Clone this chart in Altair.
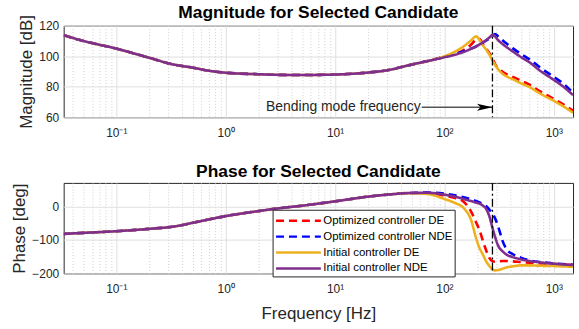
import altair as alt
import pandas as pd

# ---------------- data ----------------
freq = [0.033, 0.05, 0.1, 0.2, 0.337, 0.5, 0.7, 1, 2, 3, 5, 10, 20, 30, 50, 70,
        100, 125, 150, 175, 195, 210, 225, 240, 258, 276,
        290, 310, 340, 370, 420, 500, 600, 750, 1000, 1200, 1500]

series_names = ["Optimized controller DE", "Optimized controller NDE",
                "Initial controller DE", "Initial controller NDE"]
series_colors = ["#FF0000", "#0000FF", "#EDB120", "#7E2F8E"]
series_dashes = [[8, 5], [8, 5], [1, 0], [1, 0]]

mag_opt_de = [113.8, 110, 105, 99, 94.5, 92.5, 90.5, 89.2, 88.2, 87.8, 87.7, 88, 89.3, 90.8, 94.5, 96.8,
              99.6, 101.5, 104, 107.5, 110.8, 111.2, 108, 105, 102, 98.5,
              95, 92, 89.8, 88.3, 86.5, 84, 81.3, 77, 72, 68.7, 64.3]
mag_opt_nde = [113.8, 110, 105, 99, 94.5, 92.5, 90.5, 89.2, 88.2, 87.8, 87.7, 88, 89.3, 90.8, 94.5, 96.8,
               99.6, 101.5, 103.2, 105, 106.5, 107.8, 109, 110.2, 111.7, 113.3,
               114.6, 113, 110.5, 108.3, 105.3, 101.5, 98, 92.6, 86.5, 82.5, 76]
mag_init_de = [113.8, 110, 105, 99, 94.5, 92.5, 90.5, 89.2, 88.2, 87.8, 87.7, 88, 89.3, 90.8, 94.5, 96.8,
               100, 103, 106.5, 110.3, 113, 110.5, 107, 104.5, 101, 97,
               94.5, 91.5, 88.5, 86.8, 85, 82.3, 79.8, 75.5, 70.8, 67.5, 63]
mag_init_nde = [113.8, 110, 105, 99, 94.5, 92.5, 90.5, 89.2, 88.2, 87.8, 87.7, 88, 89.3, 90.8, 94.5, 96.8,
                99.3, 101, 102.8, 104.8, 106.3, 107.8, 109, 110.5, 112.3, 114,
                113, 110.5, 108, 106, 103.2, 99.5, 96, 90.5, 84.5, 80.5, 74.5]

ph_opt_de = [-82, -79, -74, -67, -60, -49, -39, -29, -14, -6, 2, 15, 29, 35, 40, 40,
             32, 25, 14, -15, -48, -72, -103, -130, -154, -164,
             -165, -164, -163, -163, -164, -166, -168, -170, -172, -173, -175]
ph_opt_nde = [-82, -79, -74, -67, -60, -49, -39, -29, -14, -6, 2, 15, 29, 35, 40, 41,
              38, 33, 27, 21, 16, 12, 7, 1, -10, -22,
              -35, -60, -103, -128, -142, -153, -161, -166, -170, -172, -174]
ph_init_de = [-82, -79, -74, -67, -60, -49, -39, -29, -14, -6, 2, 15, 29, 35, 39, 37,
              22, 10, -5, -40, -95, -125, -144, -163, -178, -188,
              -191, -190, -186, -182, -179, -176, -176, -177, -178, -179, -180]
ph_init_nde = [-82, -79, -74, -67, -60, -49, -39, -29, -14, -6, 2, 15, 29, 35, 40, 40.5,
               35, 29, 22, 16, 11, 8, 2, -7, -30, -66,
               -90, -117, -134, -144, -151, -158, -163, -167, -171, -173, -175]

bend_freq = [275]
ann_text = ["Bending mode frequency"]
ann_text_end_freq = [62]
ann_mag = [66.6]

x_domain = [0.033, 1500]
x_major = [0.1, 1, 10, 100, 1000]
x_major_labels = ["10⁻¹", "10⁰", "10¹", "10²", "10³"]
x_minor = [m * 10.0 ** e for e in range(-2, 3) for m in range(2, 10)
           if x_domain[0] <= m * 10.0 ** e <= x_domain[1]]
mag_ticks = [60, 80, 100, 120]
ph_ticks = [-200, -100, 0]

# ---------------- tables ----------------
mag_series = [mag_opt_de, mag_opt_nde, mag_init_de, mag_init_nde]
ph_series = [ph_opt_de, ph_opt_nde, ph_init_de, ph_init_nde]
rows = []
for name, m, p in zip(series_names, mag_series, ph_series):
    for f, mv, pv in zip(freq, m, p):
        rows.append({"freq": f, "mag": mv, "phase": pv, "series": name})
df = pd.DataFrame(rows)
df_bend = pd.DataFrame({"freq": bend_freq})
df_ann = pd.DataFrame({"x": ann_text_end_freq, "x2": bend_freq, "y": ann_mag, "text": ann_text})

FONT = "Liberation Sans"
TXT = "#262626"
GRID = "#dfdfdf"

label_expr = " : ".join(
    [f"datum.value == {v} ? '{l}'" for v, l in zip(x_major, x_major_labels)]) + " : ''"
minor_test = "indexof(" + str(x_major) + ", datum.value) < 0"

x_scale = alt.Scale(type="log", domain=x_domain, nice=False)
mag_scale = alt.Scale(domain=[60, 120], nice=False)
ph_scale = alt.Scale(domain=[-200, 70], nice=False)


def make_x_axis(title=None):
    kw = dict(
        values=sorted(x_major + x_minor), labelExpr=label_expr, labelOverlap=False,
        labelFlush=False, grid=True,
        gridColor={"condition": {"test": minor_test, "value": "#cfcfcf"}, "value": GRID},
        gridDash={"condition": {"test": minor_test, "value": [1, 2]}, "value": []},
        ticks=False, domain=False, labelFontSize=12, labelFont=FONT, labelColor=TXT,
        labelPadding=10,
    )
    if title:
        kw.update(title=title, titleFontSize=17, titleFont=FONT, titleFontWeight="normal",
                  titleColor=TXT, titlePadding=11)
    else:
        kw.update(title=None)
    return alt.Axis(**kw)


def make_y_axis(title, vals):
    return alt.Axis(values=vals, grid=True, gridColor=GRID, ticks=False, domain=False,
                    labelFontSize=12, labelFont=FONT, labelColor=TXT, labelPadding=5,
                    title=title, titleFontSize=17, titleFont=FONT, titleFontWeight="normal",
                    titleColor=TXT, titlePadding=3)


def panel_layers(yfield, yscale, xax, yax, legend):
    X = alt.X("freq:Q", scale=x_scale, axis=xax)
    layers = []
    for name in series_names:
        layers.append(
            alt.Chart(df).transform_filter(alt.datum.series == name)
            .mark_line(strokeWidth=2.6, interpolate="monotone", clip=True)
            .encode(
                x=X,
                y=alt.Y(f"{yfield}:Q", scale=yscale, axis=yax),
                color=alt.Color("series:N", scale=alt.Scale(domain=series_names, range=series_colors),
                                legend=legend),
                strokeDash=alt.StrokeDash("series:N",
                                          scale=alt.Scale(domain=series_names, range=series_dashes),
                                          legend=legend),
            )
        )
    bend = alt.Chart(df_bend).mark_rule(color="black", strokeWidth=1.3,
                                        strokeDash=[8, 3, 2, 3]).encode(x=X)
    layers.append(bend)
    return layers, X


legend = alt.Legend(
    orient="none", legendX=210, legendY=27, title=None, fillColor="white",
    strokeColor=TXT, padding=2, symbolType="M-1,0 L5,0", symbolStrokeWidth=2.5,
    symbolSize=225, labelFontSize=11.5, labelFont=FONT, labelColor="black",
    rowPadding=1, labelOffset=31,
)

top_xax = make_x_axis()
top_yax = make_y_axis("Magnitude [dB]", mag_ticks)
top_layers, X_top = panel_layers("mag", mag_scale, top_xax, top_yax, None)

Y_ann = alt.Y("y:Q", scale=mag_scale, axis=top_yax)
arrow_line = alt.Chart(df_ann).mark_rule(color="black", strokeWidth=1).encode(
    x=alt.X("x:Q", scale=x_scale, axis=top_xax), x2="x2:Q", y=Y_ann)
arrow_head = alt.Chart(df_ann).mark_point(
    shape="M-2,-0.45 L0,0 L-2,0.45 L-1.55,0 Z", size=240, filled=True, color="black", opacity=1,
    strokeWidth=0).encode(x=alt.X("x2:Q", scale=x_scale, axis=top_xax), y=Y_ann)
arrow_text = alt.Chart(df_ann).mark_text(
    align="right", baseline="middle", fontSize=14, font=FONT, color=TXT, dx=-1).encode(
    x=alt.X("x:Q", scale=x_scale, axis=top_xax), y=Y_ann, text="text:N")

title_kw = dict(fontSize=17.5, fontWeight="bold", font=FONT, color="black", frame="group",
                anchor="middle")

top = alt.layer(*top_layers, arrow_line, arrow_head, arrow_text).properties(
    width=512, height=92,
    title=alt.TitleParams("Magnitude for Selected Candidate", offset=-6.5, **title_kw),
)

bot_layers, X_bot = panel_layers("phase", ph_scale, make_x_axis("Frequency [Hz]"),
                                 make_y_axis("Phase [deg]", ph_ticks), legend)
bottom = alt.layer(*bot_layers).properties(
    width=512, height=91,
    title=alt.TitleParams("Phase for Selected Candidate", offset=1.5, **title_kw),
)

chart = alt.vconcat(top, bottom, spacing=23).resolve_scale(
    color="independent", strokeDash="independent"
).properties(
    padding={"left": 10, "top": 2, "right": 5, "bottom": 6}
).configure_view(stroke=TXT, strokeWidth=1)

chart.save("out.html", embed_options={"renderer": "svg", "actions": False})
